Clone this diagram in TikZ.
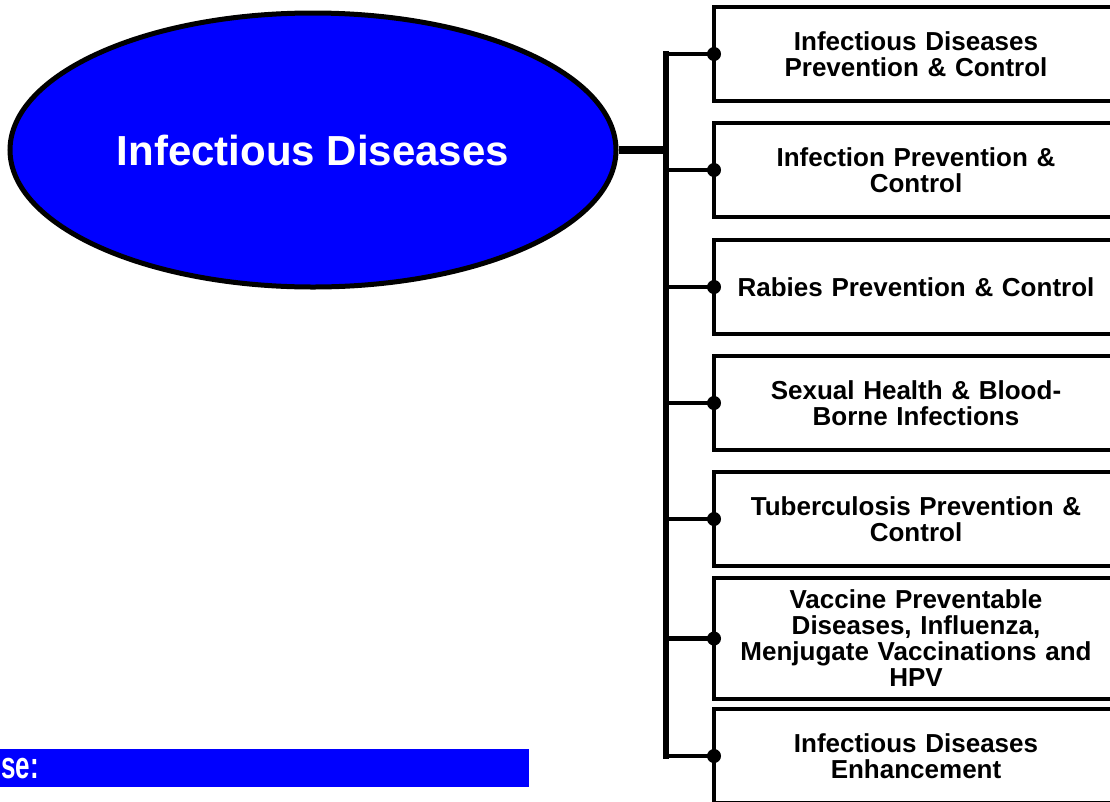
\documentclass[tikz,border=0pt]{standalone}
\usepackage{fontspec}
\setmainfont{Liberation Sans}
\usetikzlibrary{positioning, shapes.geometric}

\begin{document}
\begin{tikzpicture}[
    x=1pt, y=-1pt,
    node distance=22pt,
    topic/.style={
        ellipse,
        draw=black,
        line width=5pt,
        fill=blue,
        text=white,
        minimum width=606pt,
        minimum height=274pt,
        inner sep=0pt,
        font=\bfseries\fontsize{42}{46}\selectfont
    },
    unit/.style={
        rectangle,
        draw=black,
        line width=4.5pt,
        fill=white,
        minimum width=404pt,
        minimum height=94pt,
        text width=390pt,
        inner sep=0pt,
        outer sep=0pt,
        align=center,
        font=\bfseries\fontsize{26}{26}\selectfont
    },
    joint/.style={
        circle,
        fill=black,
        inner sep=0pt,
        minimum size=14pt
    },
    feed/.style={line width=8pt},
    bus/.style={line width=6pt},
    branch/.style={line width=4.5pt},
    banner/.style={
        rectangle,
        fill=blue,
        text=white,
        minimum width=529pt,
        minimum height=38pt,
        text width=527pt,
        inner xsep=1pt,
        inner ysep=0pt,
        align=left,
        font=\bfseries\fontsize{26}{26}\selectfont
    }
]
\useasboundingbox (0,0) rectangle (1110,801);

% Main topic
\node[topic] (topic) at (313,150) {Infectious Diseases};

% Program boxes
\node[unit, anchor=north west] (prog1) at (714,7)
    {Infectious Diseases\\Prevention \& Control};
\node[unit, below=22pt of prog1] (prog2)
    {Infection Prevention \&\\Control};
\node[unit, below=23pt of prog2] (prog3)
    {Rabies Prevention \& Control};
\node[unit, below=22pt of prog3] (prog4)
    {Sexual Health \& Blood-\\Borne Infections};
\node[unit, below=22pt of prog4] (prog5)
    {Tuberculosis Prevention \&\\Control};
\node[unit, below=12pt of prog5, minimum height=121pt] (prog6)
    {Vaccine Preventable\\Diseases, Influenza,\\Menjugate Vaccinations and\\HPV};
\node[unit, below=10pt of prog6] (prog7)
    {Infectious Diseases\\Enhancement};

% Bus from the topic down the left of the boxes
\coordinate (top) at (666,0 |- prog1.west);
\coordinate (bot) at (666,0 |- prog7.west);
\draw[feed] (topic.east) -- (topic.east -| top);
\draw[bus] ([yshift=3pt]top) -- ([yshift=-3pt]bot);

% Branches with joints
\draw[branch] (top) -- (prog1.west) node[joint] {};
\draw[branch] (top |- prog2.west) -- (prog2.west) node[joint] {};
\draw[branch] (top |- prog3.west) -- (prog3.west) node[joint] {};
\draw[branch] (top |- prog4.west) -- (prog4.west) node[joint] {};
\draw[branch] (top |- prog5.west) -- (prog5.west) node[joint] {};
\draw[branch] (top |- prog6.west) -- (prog6.west) node[joint] {};
\draw[branch] (bot) -- (prog7.west) node[joint] {};

% Banner at the bottom
\node[banner, anchor=north west] (banner) at (0,749)
    {\scalebox{1}[1.45]{se:}};
\end{tikzpicture}
\end{document}
